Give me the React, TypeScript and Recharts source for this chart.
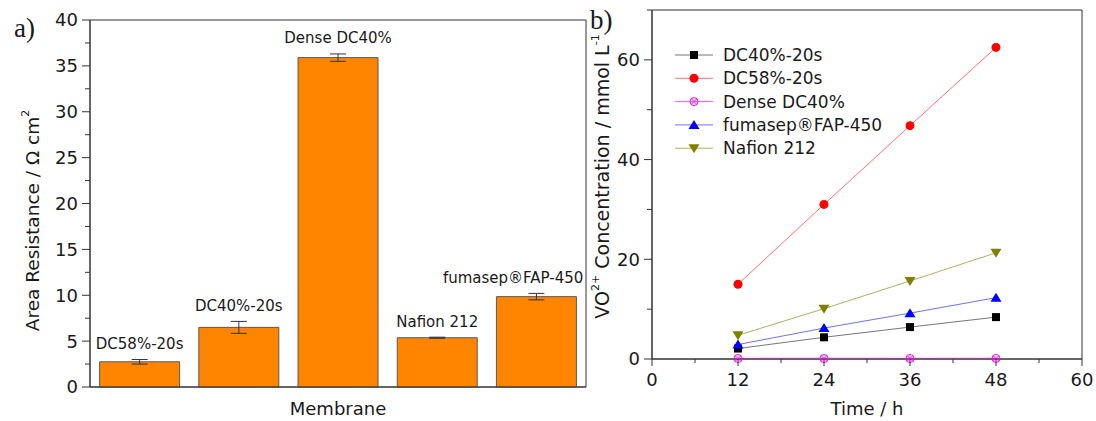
import React from "react";
import {
  Bar,
  BarChart,
  ErrorBar,
  LabelList,
  Legend,
  Line,
  LineChart,
  ReferenceArea,
  XAxis,
  YAxis,
} from "recharts";

// panel a) area resistance
const membranes = ["DC58%-20s", "DC40%-20s", "Dense DC40%", "Nafion 212", "fumasep®FAP-450"];
const resistance = [2.75, 6.5, 35.9, 5.37, 9.85];
const resistanceErr = [0.25, 0.65, 0.4, 0.06, 0.35];
const resistanceTicks = [0, 2.5, 5, 7.5, 10, 12.5, 15, 17.5, 20, 22.5, 25, 27.5, 30, 32.5, 35, 37.5, 40];

// panel b) VO2+ crossover
const times = [12, 24, 36, 48];
const dc40 = [2.1, 4.35, 6.4, 8.4];
const dc58 = [15, 31, 46.8, 62.5];
const dense = [0.1, 0.1, 0.1, 0.1];
const fap = [2.9, 6.2, 9.2, 12.3];
const nafion = [4.75, 10.1, 15.65, 21.3];
const timeTicks = [0, 6, 12, 18, 24, 30, 36, 42, 48, 54, 60];
const concTicks = [0, 10, 20, 30, 40, 50, 60, 70];

const barRows = membranes.map((name, i) => ({ name, r: resistance[i], err: resistanceErr[i] }));
const lineRows = times.map((t, i) => ({
  t,
  dc40: dc40[i],
  dc58: dc58[i],
  dense: dense[i],
  fap: fap[i],
  nafion: nafion[i],
}));

const lineSeries = [
  { key: "dc40", name: "DC40%-20s", line: "#777", mark: "#000", shape: "square" },
  { key: "dc58", name: "DC58%-20s", line: "#ff7070", mark: "#ff0000", shape: "circle" },
  { key: "dense", name: "Dense DC40%", line: "#ff55ff", mark: "#ff00ff", shape: "crossCircle" },
  { key: "fap", name: "fumasep®FAP-450", line: "#7070ff", mark: "#0000ff", shape: "up" },
  { key: "nafion", name: "Nafion 212", line: "#b0b060", mark: "#808000", shape: "down" },
];

const AXIS = "#333";
const TEXT = "#1a1a1a";
const BAR_LABEL_SIZE = 15;
const PLOT_A_RIGHT = 584;

function Marker({ shape, cx, cy, color }: any) {
  if (cx == null || cy == null) return null;
  switch (shape) {
    case "square":
      return <rect x={cx - 4} y={cy - 4} width={8} height={8} fill={color} />;
    case "circle":
      return <circle cx={cx} cy={cy} r={4.5} fill={color} />;
    case "crossCircle":
      return (
        <g stroke={color} fill="none" strokeWidth={1}>
          <circle cx={cx} cy={cy} r={4} />
          <line x1={cx - 2.8} y1={cy - 2.8} x2={cx + 2.8} y2={cy + 2.8} />
          <line x1={cx - 2.8} y1={cy + 2.8} x2={cx + 2.8} y2={cy - 2.8} />
        </g>
      );
    case "up":
      return <polygon points={`${cx},${cy - 5} ${cx + 5.5},${cy + 4} ${cx - 5.5},${cy + 4}`} fill={color} />;
    case "down":
      return <polygon points={`${cx},${cy + 5} ${cx + 5.5},${cy - 4} ${cx - 5.5},${cy - 4}`} fill={color} />;
    default:
      return null;
  }
}

function TickA({ x, y, payload }: any) {
  const v = payload.value;
  const major = v % 5 === 0;
  return (
    <g>
      <line x1={x} x2={x - (major ? 8 : 5)} y1={y} y2={y} stroke={AXIS} />
      {major && (
        <text x={x - 12} y={y} dy="0.36em" textAnchor="end" fontSize={18} fill={TEXT}>
          {v}
        </text>
      )}
    </g>
  );
}

function TickBY({ x, y, payload }: any) {
  const v = payload.value;
  const major = v % 20 === 0;
  return (
    <g>
      <line x1={x} x2={x - (major ? 8 : 5)} y1={y} y2={y} stroke={AXIS} />
      {major && (
        <text x={x - 12} y={y} dy="0.36em" textAnchor="end" fontSize={18} fill={TEXT}>
          {v}
        </text>
      )}
    </g>
  );
}

function TickBX({ x, y, payload }: any) {
  const v = payload.value;
  const major = v % 12 === 0;
  return (
    <g>
      <line x1={x} x2={x} y1={y} y2={y + (major ? 7 : 4)} stroke={AXIS} />
      {major && (
        <text x={x} y={y + 27} textAnchor="middle" fontSize={18} fill={TEXT}>
          {v}
        </text>
      )}
    </g>
  );
}

// label sits just above the error bar; pulled left if it would run past the frame
function BarTag({ x, y, width, height, index }: any) {
  const scale = height / resistance[index];
  const top = y - resistanceErr[index] * scale - 10.5;
  const text = membranes[index];
  const half = (text.length * 0.63 * BAR_LABEL_SIZE) / 2;
  const cx = Math.min(x + width / 2, PLOT_A_RIGHT - half);
  return (
    <text x={cx} y={top} textAnchor="middle" fontSize={BAR_LABEL_SIZE} fill={TEXT}>
      {text}
    </text>
  );
}

function YTitleA({ viewBox }: any) {
  const vb = viewBox || { x: 0, y: 20, width: 90, height: 367 };
  const cx = vb.x + 32;
  const cy = vb.y + vb.height / 2 + 17;
  return (
    <text
      x={cx}
      y={cy}
      transform={`rotate(-90 ${cx} ${cy})`}
      textAnchor="middle"
      dominantBaseline="central"
      fontSize={18.5}
      fill={TEXT}
    >
      Area Resistance / Ω cm
      <tspan dy={-7} fontSize={11}>
        2
      </tspan>
    </text>
  );
}

function YTitleB({ viewBox }: any) {
  const vb = viewBox || { x: 0, y: 10, width: 62, height: 349 };
  const cx = vb.x + 12;
  const cy = vb.y + vb.height / 2 - 8;
  return (
    <text
      x={cx}
      y={cy}
      transform={`rotate(-90 ${cx} ${cy})`}
      textAnchor="middle"
      dominantBaseline="central"
      fontSize={19}
      fill={TEXT}
    >
      VO
      <tspan dy={-7} fontSize={11}>
        2+
      </tspan>
      <tspan dy={7}> Concentration / mmol L</tspan>
      <tspan dy={-7} fontSize={11}>
        -1
      </tspan>
    </text>
  );
}

function XTitle({ viewBox, text, drop }: any) {
  const vb = viewBox || { x: 0, y: 0, width: 0, height: 0 };
  return (
    <text x={vb.x + vb.width / 2} y={vb.y + drop} textAnchor="middle" fontSize={18} fill={TEXT}>
      {text}
    </text>
  );
}

function LegendBox({ payload }: any) {
  const names = (payload || []).map((e: any) => e.value);
  const items = lineSeries.filter((s) => names.length === 0 || names.includes(s.name));
  return (
    <svg width={210} height={124} style={{ display: "block" }}>
      {items.map((s, i) => {
        const y = 12 + i * 23.3;
        return (
          <g key={s.key}>
            <line x1={0} x2={38} y1={y} y2={y} stroke={s.line} />
            <Marker shape={s.shape} cx={19} cy={y} color={s.mark} />
            <text x={48} y={y} dy="0.36em" fontSize={17} fill={TEXT}>
              {s.name}
            </text>
          </g>
        );
      })}
    </svg>
  );
}

function ResistancePanel() {
  return (
    <BarChart
      width={590}
      height={421}
      data={barRows}
      margin={{ top: 20, right: 4, left: 0, bottom: 0 }}
      barCategoryGap="9.7%"
    >
      <XAxis
        dataKey="name"
        height={34}
        tick={false}
        tickLine={false}
        axisLine={{ stroke: AXIS }}
        label={{ content: (p: any) => <XTitle {...p} text="Membrane" drop={28} /> }}
      />
      <YAxis
        width={90}
        domain={[0, 40]}
        ticks={resistanceTicks}
        interval={0}
        tickSize={0}
        tickMargin={0}
        tickLine={false}
        tick={<TickA />}
        axisLine={{ stroke: AXIS }}
        label={{ content: (p: any) => <YTitleA {...p} /> }}
      />
      <ReferenceArea
        x1={membranes[0]}
        x2={membranes[membranes.length - 1]}
        y1={0}
        y2={40}
        fill="none"
        stroke={AXIS}
        ifOverflow="visible"
      />
      <Bar dataKey="r" fill="#ff8400" stroke="#5a5a5a" strokeWidth={1} isAnimationActive={false}>
        <ErrorBar dataKey="err" width={8} stroke="#333" strokeWidth={1} />
        <LabelList dataKey="name" content={<BarTag />} />
      </Bar>
    </BarChart>
  );
}

function CrossoverPanel() {
  return (
    <LineChart width={506} height={421} data={lineRows} margin={{ top: 10, right: 14, left: 0, bottom: 0 }}>
      <XAxis
        dataKey="t"
        type="number"
        domain={[0, 60]}
        ticks={timeTicks}
        interval={0}
        height={62}
        tickSize={0}
        tickMargin={0}
        tickLine={false}
        tick={<TickBX />}
        axisLine={{ stroke: AXIS }}
        label={{ content: (p: any) => <XTitle {...p} text="Time / h" drop={56} /> }}
      />
      <YAxis
        width={62}
        domain={[0, 70]}
        ticks={concTicks}
        interval={0}
        tickSize={0}
        tickMargin={0}
        tickLine={false}
        tick={<TickBY />}
        axisLine={{ stroke: AXIS }}
        label={{ content: (p: any) => <YTitleB {...p} /> }}
      />
      <ReferenceArea x1={0} x2={60} y1={0} y2={70} fill="none" stroke={AXIS} ifOverflow="visible" />
      <Legend
        layout="vertical"
        align="center"
        verticalAlign="middle"
        content={<LegendBox />}
        wrapperStyle={{ left: 85, top: 43, width: 210, height: 124 }}
      />
      {lineSeries.map((s) => (
        <Line
          key={s.key}
          dataKey={s.key}
          name={s.name}
          stroke={s.line}
          strokeWidth={s.key === "dense" ? 1.6 : 1}
          isAnimationActive={false}
          dot={(p: any) => <Marker key={`${s.key}-${p.index}`} shape={s.shape} cx={p.cx} cy={p.cy} color={s.mark} />}
          activeDot={false}
        />
      ))}
    </LineChart>
  );
}

export default function App() {
  return (
    <div
      style={{
        position: "absolute",
        left: 0,
        top: 0,
        width: 1096,
        height: 421,
        background: "#fff",
        fontFamily: "'DejaVu Sans', sans-serif",
        overflow: "hidden",
      }}
    >
      <div style={{ position: "absolute", left: 0, top: 0 }}>
        <ResistancePanel />
      </div>
      <div style={{ position: "absolute", left: 590, top: 0 }}>
        <CrossoverPanel />
      </div>
      <svg width={1096} height={421} style={{ position: "absolute", left: 0, top: 0, pointerEvents: "none" }}>
        <text x={14} y={37} fontSize={27} fontFamily="'Liberation Serif', serif" fill={TEXT}>
          a)
        </text>
        <text x={590} y={29} fontSize={27} fontFamily="'Liberation Serif', serif" fill={TEXT}>
          b)
        </text>
      </svg>
    </div>
  );
}
